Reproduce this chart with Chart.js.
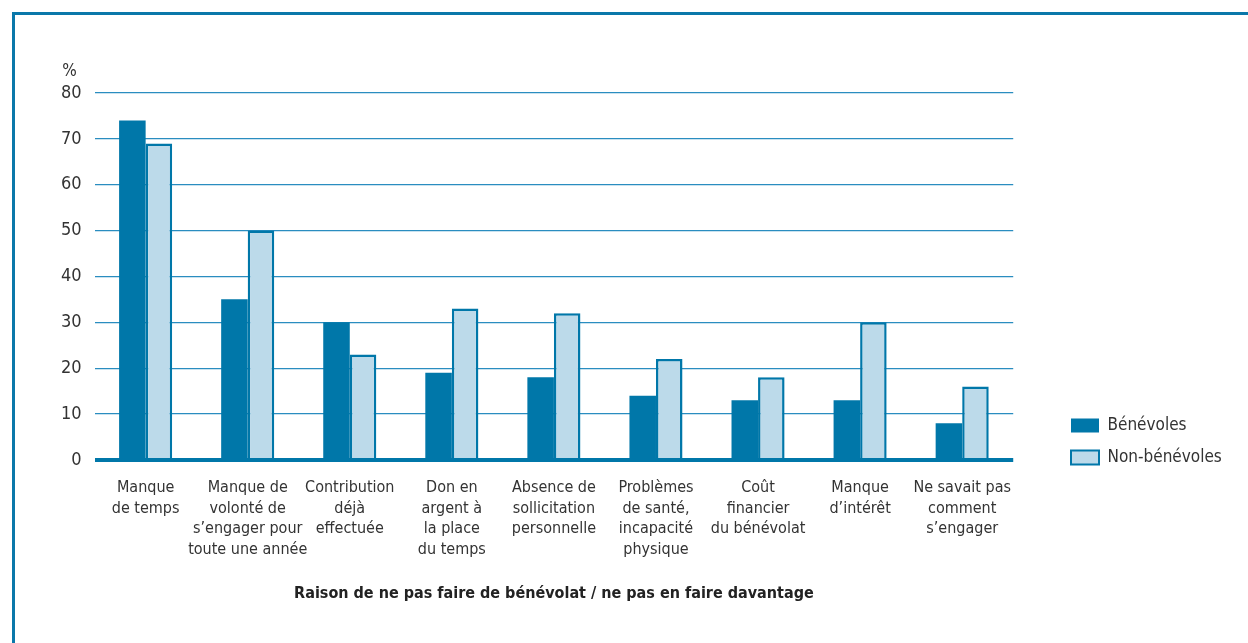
<!DOCTYPE html>
<html>
<head>
<meta charset="utf-8">
<script src="https://cdn.jsdelivr.net/npm/chart.js@4"></script>
<style>
  html, body { margin: 0; padding: 0; background: #fff; overflow: hidden; }
  #frame {
    position: absolute; left: 12px; top: 12px; width: 1240px; height: 640px;
    border-top: 3px solid #0a78aa; border-left: 3px solid #0a78aa;
  }
  #wrap { position: absolute; left: 0; top: 0; width: 1248px; height: 643px; }
</style>
</head>
<body>
<div id="frame"></div>
<div id="wrap"><canvas id="chart"></canvas></div>
<script>
var FONT = "'Liberation Sans Narrow', 'DejaVu Sans Condensed', 'Liberation Sans', sans-serif";

// raisons (x axis)
var categories = [
    ['Manque', 'de temps'],
    ['Manque de', 'volonté de', 's\u2019engager pour', 'toute une année'],
    ['Contribution', 'déjà', 'effectuée'],
    ['Don en', 'argent à', 'la place', 'du temps'],
    ['Absence de', 'sollicitation', 'personnelle'],
    ['Problèmes', 'de santé,', 'incapacité', 'physique'],
    ['Coût', 'financier', 'du bénévolat'],
    ['Manque', 'd\u2019intérêt'],
    ['Ne savait pas', 'comment', 's\u2019engager']
];
var benevoles    = [74, 35, 30, 19, 18, 14, 13, 13, 8];
var nonBenevoles = [69, 50, 23, 33, 32, 22, 18, 30, 16];
var yTicks = [0, 10, 20, 30, 40, 50, 60, 70, 80];

var DARK = '#0077a9';
var LIGHT = '#bcdaea';

// moves legend away from plot and draws the "%" unit
var extras = {
    id: 'extras',
    afterLayout: function(chart) {
        var lg = chart.legend;
        var shift = 1056 - lg.left;
        lg.left += shift; lg.right += shift;
        var b = chart.chartArea.bottom + 21;
        lg.top += b - lg.bottom; lg.bottom = b;
    },
    afterDraw: function(chart) {
        var y = chart.scales.y, ctx = chart.ctx;
        ctx.save();
        ctx.font = '17px ' + FONT;
        ctx.fillStyle = '#333';
        ctx.textBaseline = 'middle';
        var w = ctx.measureText('80').width;
        ctx.textAlign = 'left';
        ctx.fillText('%', y.right - 13 - w, chart.chartArea.top - 21);
        ctx.restore();
    }
};

new Chart(document.getElementById('chart'), {
    type: 'bar',
    data: {
        labels: categories,
        datasets: [{
            label: 'Bénévoles',
            data: benevoles,
            backgroundColor: DARK,
            borderColor: DARK,
            borderWidth: 0
        }, {
            label: 'Non-bénévoles',
            data: nonBenevoles,
            backgroundColor: LIGHT,
            borderColor: DARK,
            borderWidth: {top: 2.5, left: 2.5, right: 2.5, bottom: 0}
        }]
    },
    options: {
        responsive: true,
        maintainAspectRatio: false,
        animation: false,
        layout: { padding: { left: 48, right: 59, top: 93, bottom: 36 } },
        datasets: { bar: { categoryPercentage: 0.52, barPercentage: 1.0 } },
        scales: {
            x: {
                grid: { display: false },
                border: { display: false },
                ticks: {
                    color: '#333',
                    font: { family: FONT, size: 16, lineHeight: 1.28 },
                    maxRotation: 0, autoSkip: false, padding: 10
                },
                title: {
                    display: true,
                    text: 'Raison de ne pas faire de bénévolat / ne pas en faire davantage',
                    color: '#222',
                    font: { family: FONT, size: 16, weight: 'bold' },
                    padding: { top: 14 }
                }
            },
            y: {
                min: 0, max: 80,
                afterBuildTicks: function(axis) {
                    axis.ticks = yTicks.map(function(v) { return {value: v}; });
                },
                border: { display: false },
                grid: {
                    drawTicks: false,
                    color: function(c) { return c.tick.value === 0 ? DARK : '#2a8dc0'; },
                    lineWidth: function(c) { return c.tick.value === 0 ? 4 : 1.3; }
                },
                ticks: {
                    color: '#333',
                    padding: 13,
                    font: { family: FONT, size: 18 }
                }
            }
        },
        plugins: {
            tooltip: { enabled: false },
            legend: {
                position: 'right',
                align: 'end',
                fullSize: false,
                labels: {
                    boxWidth: 28,
                    boxHeight: 14,
                    padding: 15,
                    color: '#333',
                    font: { family: FONT, size: 17 },
                    generateLabels: function(chart) {
                        return chart.data.datasets.map(function(ds, i) {
                            return {
                                text: ds.label,
                                fillStyle: ds.backgroundColor,
                                strokeStyle: DARK,
                                lineWidth: i === 1 ? 2 : 0,
                                fontColor: '#333',
                                datasetIndex: i
                            };
                        });
                    }
                }
            }
        }
    },
    plugins: [extras]
});
</script>
</body>
</html>
